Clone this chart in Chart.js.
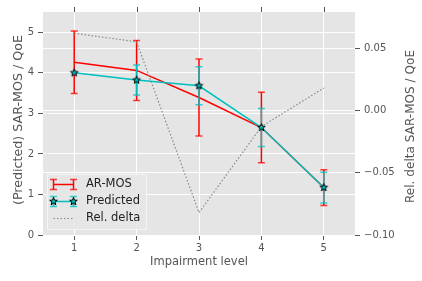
<!DOCTYPE html>
<html>
<head>
<meta charset="utf-8">
<script src="https://cdn.jsdelivr.net/npm/chart.js@4"></script>
<style>
  body { margin: 0; background: #fff; }
  #wrap { width: 422px; height: 281px; }
</style>
</head>
<body>
<div id="wrap"><canvas id="chart" width="422" height="281"></canvas></div>
<script>
const levels = [1, 2, 3, 4, 5];
const arMos = [4.26, 4.06, 3.39, 2.65, 1.17];
const arMosErr = [0.77, 0.74, 0.95, 0.87, 0.44];
const predicted = [4.00, 3.82, 3.68, 2.65, 1.17];
const predictedErr = [0, 0.37, 0.47, 0.47, 0.38];
const relDelta = [0.062, 0.055, -0.082, -0.013, 0.018];
const leftTicks = [0, 1, 2, 3, 4, 5];
const rightTicks = [-0.10, -0.05, 0.00, 0.05];

const FONT = '"DejaVu Sans", sans-serif';
const RED = '#FF0000';
const CYAN = '#00BFBF';
const GREY = '#555555';
const DOTS = '#888888';

// filled five point star, used for the "Predicted" markers
function makeStar(r) {
  const c = document.createElement('canvas');
  const s = Math.ceil(r * 2 + 3);
  c.width = c.height = s;
  const g = c.getContext('2d');
  g.beginPath();
  for (let i = 0; i < 10; i++) {
    const a = -Math.PI / 2 + i * Math.PI / 5;
    const rr = i % 2 ? r * 0.42 : r;
    g.lineTo(s / 2 + rr * Math.cos(a), s / 2 + rr * Math.sin(a));
  }
  g.closePath();
  g.fillStyle = CYAN;
  g.fill();
  g.strokeStyle = '#000';
  g.lineWidth = 1;
  g.stroke();
  return c;
}
const star = makeStar(4);

function pts(ys) {
  return levels.map((x, i) => ({ x: x, y: ys[i] }));
}

function drawBar(ctx, x, yTop, yBot, color, cap) {
  ctx.strokeStyle = color;
  ctx.lineWidth = 1.5;
  ctx.beginPath();
  ctx.moveTo(x, yTop);
  ctx.lineTo(x, yBot);
  ctx.stroke();
  ctx.globalAlpha = 0.75;
  ctx.beginPath();
  ctx.moveTo(x - cap, yTop);
  ctx.lineTo(x + cap, yTop);
  ctx.moveTo(x - cap, yBot);
  ctx.lineTo(x + cap, yBot);
  ctx.stroke();
  ctx.globalAlpha = 1;
}

// rotated/plain title whose font size is chosen so it spans `len` pixels
function fitText(ctx, text, x, y, len, rot) {
  ctx.font = '12px ' + FONT;
  const size = 12 * len / ctx.measureText(text).width;
  ctx.font = size.toFixed(2) + 'px ' + FONT;
  ctx.save();
  ctx.translate(x, y);
  ctx.rotate(rot);
  ctx.fillText(text, 0, 0);
  ctx.restore();
}

const background = {
  id: 'background',
  beforeDraw(chart) {
    const { ctx, chartArea: a } = chart;
    ctx.save();
    ctx.fillStyle = '#E5E5E5';
    ctx.fillRect(a.left, a.top, a.right - a.left, a.bottom - a.top);
    ctx.restore();
  }
};

const errorBars = {
  id: 'errorBars',
  beforeDatasetDraw(chart, args) {
    const ds = chart.data.datasets[args.index];
    if (!ds.errors) return;
    const ctx = chart.ctx;
    const xs = chart.scales.x, ys = chart.scales.y;
    ctx.save();
    ds.data.forEach((p, i) => {
      const e = ds.errors[i];
      if (!e) return;
      drawBar(ctx, xs.getPixelForValue(p.x), ys.getPixelForValue(p.y + e),
        ys.getPixelForValue(p.y - e), ds.borderColor, 3.5);
    });
    ctx.restore();
  }
};

const extras = {
  id: 'extras',
  afterDraw(chart) {
    const { ctx, chartArea: a } = chart;
    ctx.save();
    // ticks on the top edge
    ctx.strokeStyle = GREY;
    ctx.lineWidth = 1;
    levels.forEach(v => {
      const px = Math.round(chart.scales.x.getPixelForValue(v)) + 0.5;
      ctx.beginPath();
      ctx.moveTo(px, a.top - 5);
      ctx.lineTo(px, a.top);
      ctx.stroke();
    });

    // axis titles
    ctx.fillStyle = GREY;
    ctx.textAlign = 'center';
    ctx.textBaseline = 'middle';
    fitText(ctx, 'Impairment level', (a.left + a.right) / 2, 262, 98, 0);
    fitText(ctx, '(Predicted) SAR-MOS / QoE', 19, 120, 170, -Math.PI / 2);
    fitText(ctx, 'Rel. delta SAR-MOS / QoE', 410.5, 126.5, 153, -Math.PI / 2);

    // legend
    const bx = 47, by = 174, bw = 99, bh = 55;
    ctx.fillStyle = 'rgba(229,229,229,0.9)';
    ctx.fillRect(bx, by, bw, bh);
    ctx.strokeStyle = '#F4F4F4';
    ctx.strokeRect(bx + 0.5, by + 0.5, bw, bh);
    const x0 = 53.5, x1 = 73.5;
    const rows = [184.5, 201.5, 218.5];
    // AR-MOS
    ctx.strokeStyle = RED;
    ctx.lineWidth = 1.5;
    ctx.beginPath(); ctx.moveTo(x0, rows[0]); ctx.lineTo(x1, rows[0]); ctx.stroke();
    drawBar(ctx, x0, rows[0] - 5, rows[0] + 5, RED, 3.5);
    drawBar(ctx, x1, rows[0] - 5, rows[0] + 5, RED, 3.5);
    // Predicted
    ctx.strokeStyle = CYAN;
    ctx.lineWidth = 1.5;
    ctx.beginPath(); ctx.moveTo(x0, rows[1]); ctx.lineTo(x1, rows[1]); ctx.stroke();
    drawBar(ctx, x0, rows[1] - 5, rows[1] + 5, CYAN, 3.5);
    drawBar(ctx, x1, rows[1] - 5, rows[1] + 5, CYAN, 3.5);
    ctx.drawImage(star, x0 - star.width / 2, rows[1] - star.height / 2);
    ctx.drawImage(star, x1 - star.width / 2, rows[1] - star.height / 2);
    // Rel. delta
    ctx.strokeStyle = DOTS;
    ctx.lineWidth = 1.2;
    ctx.setLineDash([1.5, 2]);
    ctx.beginPath(); ctx.moveTo(x0, rows[2]); ctx.lineTo(x1, rows[2]); ctx.stroke();
    ctx.setLineDash([]);

    ctx.fillStyle = '#222';
    ctx.textAlign = 'left';
    ctx.font = '11.5px ' + FONT;
    ctx.fillText('AR-MOS', 86, rows[0]);
    ctx.fillText('Predicted', 86, rows[1]);
    ctx.fillText('Rel. delta', 86, rows[2]);
    ctx.restore();
  }
};

const tickFont = { family: FONT, size: 10 };

new Chart(document.getElementById('chart'), {
  type: 'line',
  data: {
    datasets: [{
      label: 'AR-MOS',
      data: pts(arMos),
      errors: arMosErr,
      borderColor: RED,
      borderWidth: 1.5,
      pointRadius: 0,
      yAxisID: 'y',
      order: 3
    }, {
      label: 'Predicted',
      data: pts(predicted),
      errors: predictedErr,
      borderColor: CYAN,
      borderWidth: 1.5,
      pointStyle: star,
      pointRadius: 4,
      yAxisID: 'y',
      order: 2
    }, {
      label: 'Rel. delta',
      data: pts(relDelta),
      borderColor: DOTS,
      borderWidth: 1.2,
      borderDash: [1.5, 2],
      pointRadius: 0,
      yAxisID: 'y2',
      order: 1
    }]
  },
  options: {
    responsive: false,
    animation: false,
    layout: { padding: { top: 12, left: 0, right: 0, bottom: 0 } },
    plugins: {
      legend: { display: false },
      tooltip: { enabled: false }
    },
    scales: {
      x: {
        type: 'linear',
        position: 'bottom',
        min: 0.5,
        max: 5.5,
        afterBuildTicks: s => { s.ticks = levels.map(v => ({ value: v })); },
        afterFit: s => { s.height = 46; },
        grid: { color: '#FFFFFF', lineWidth: 1, tickColor: GREY, tickLength: 5 },
        border: { display: false },
        ticks: { font: tickFont, color: GREY, padding: 2 }
      },
      y: {
        position: 'left',
        min: 0,
        max: 5.5,
        afterBuildTicks: s => { s.ticks = leftTicks.map(v => ({ value: v })); },
        afterFit: s => { s.width = 43; },
        grid: { color: '#FFFFFF', lineWidth: 1, tickColor: GREY, tickLength: 5 },
        border: { display: false },
        ticks: { font: tickFont, color: GREY, padding: 4 }
      },
      y2: {
        position: 'right',
        min: -0.1,
        max: 0.079,
        afterBuildTicks: s => { s.ticks = rightTicks.map(v => ({ value: v })); },
        afterFit: s => { s.width = 67; },
        grid: { color: '#FFFFFF', lineWidth: 1, tickColor: GREY, tickLength: 5 },
        border: { display: false },
        ticks: {
          font: tickFont,
          color: GREY,
          padding: 4,
          callback: v => v.toFixed(2).replace('-', '\u2212')
        }
      }
    }
  },
  plugins: [background, errorBars, extras]
});
</script>
</body>
</html>
